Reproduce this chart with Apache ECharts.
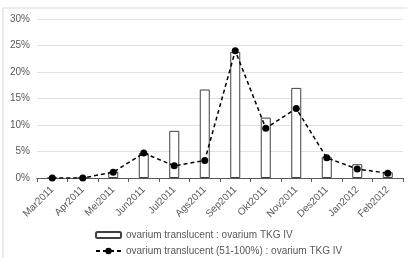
<!DOCTYPE html>
<html>
<head>
<meta charset="utf-8">
<script src="https://cdn.jsdelivr.net/npm/echarts@6/dist/echarts.min.js"></script>
<style>
html, body { margin: 0; padding: 0; background: #fff; }
#main { width: 407px; height: 258px; }
</style>
</head>
<body>
<div id="main"></div>
<script>
// bulan pengamatan
var months = ['Mar2011', 'Apr2011', 'Mei2011', 'Jun2011', 'Jul2011', 'Ags2011',
	'Sep2011', 'Okt2011', 'Nov2011', 'Des2011', 'Jan2012', 'Feb2012'];
// ovarium translucent : ovarium TKG IV (%)
var barValues = [0, 0, 1.2, 4.7, 8.9, 16.7, 23.8, 11.4, 17.0, 4.0, 2.6, 1.1];
// ovarium translucent (51-100%) : ovarium TKG IV (%)
var lineValues = [0, 0, 1.1, 4.7, 2.3, 3.3, 24.0, 9.4, 13.1, 3.8, 1.7, 0.9];
var barName = 'ovarium translucent : ovarium TKG IV';
var lineName = 'ovarium translucent (51-100%) : ovarium TKG IV';

var myChart = echarts.init(document.getElementById('main'));
var font = 'Liberation Sans, Arial, sans-serif';
var legendText = { color : '#595959', fontSize : 10, fontFamily : font };
var option = {
	animation : false,
	textStyle : { fontFamily : font },
	graphic : [ {
		type : 'rect',
		shape : { x : 3, y : 8, width : 410, height : 260 },
		style : { fill : 'none', stroke : '#d9d9d9', lineWidth : 1 },
		z : -1
	} ],
	grid : {
		left : 37,
		right : 4,
		top : 19,
		bottom : 80
	},
	// dua legenda terpisah, satu baris masing-masing
	legend : [ {
		left : 90,
		top : 225,
		itemWidth : 25,
		itemHeight : 6,
		itemGap : 0,
		textStyle : legendText,
		data : [ barName ]
	}, {
		left : 90,
		top : 241,
		itemWidth : 25,
		itemHeight : 8,
		itemGap : 0,
		textStyle : legendText,
		data : [ lineName ]
	} ],
	xAxis : {
		type : 'category',
		data : months,
		boundaryGap : true,
		axisLine : { lineStyle : { color : '#595959', width : 1 } },
		axisTick : { show : true, length : 4, lineStyle : { color : '#595959' } },
		axisLabel : {
			rotate : 45,
			color : '#595959',
			fontSize : 10,
			margin : 10,
			interval : 0
		}
	},
	yAxis : {
		type : 'value',
		min : 0,
		max : 30,
		interval : 5,
		axisLine : { show : false },
		axisTick : { show : false },
		axisLabel : {
			formatter : '{value}%',
			color : '#595959',
			fontSize : 10,
			margin : 7
		},
		splitLine : { lineStyle : { color : '#e0e0e0', width : 1 } }
	},
	series : [ {
		name : barName,
		type : 'bar',
		data : barValues,
		barWidth : 10,
		itemStyle : {
			color : '#ffffff',
			borderColor : '#404040',
			borderWidth : 1
		}
	}, {
		name : lineName,
		type : 'line',
		data : lineValues,
		symbol : 'circle',
		symbolSize : 7,
		itemStyle : { color : '#000000' },
		lineStyle : { color : '#000000', width : 1.5, type : [ 4, 3 ] },
		z : 3
	} ]
};
myChart.setOption(option);
</script>
</body>
</html>
